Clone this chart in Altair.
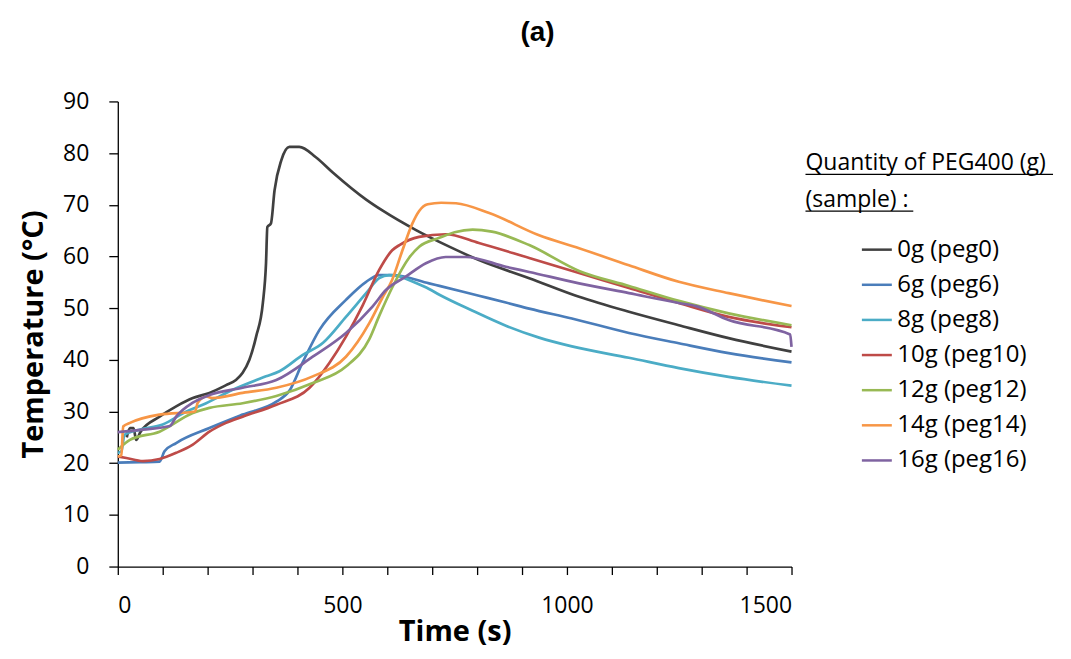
import altair as alt
import pandas as pd

# ---------------- data ----------------
series_names = ["0g (peg0)", "6g (peg6)", "8g (peg8)", "10g (peg10)",
                "12g (peg12)", "14g (peg14)", "16g (peg16)"]
series_colors = ["#404040", "#4A7DBA", "#4BACC6", "#BE4B48",
                 "#98B954", "#F79646", "#7F63A1"]

peg0_t = [20, 27, 35, 41, 50, 93, 130, 167, 204, 241, 263, 278, 293, 308, 323,
          330, 333, 341, 349, 364, 382, 404, 441, 478, 553, 589, 664, 738, 804,
          916, 1027, 1138, 1249, 1360, 1500]
peg0_T = [25.0, 26.8, 26.8, 24.5, 26.0, 29.0, 31.0, 32.6, 33.6, 35.1, 36.1, 37.5,
          40.0, 44.5, 51.0, 58.7, 65.7, 66.4, 72.8, 78.6, 81.2, 81.2, 79.2, 76.3,
          71.0, 68.9, 65.1, 61.9, 59.3, 55.8, 52.2, 49.3, 46.7, 44.2, 41.6]

peg6_t = [0, 50, 93, 104, 130, 204, 278, 353, 382, 411, 449, 508, 553, 582, 611,
          693, 716, 804, 864, 916, 1011, 1138, 1249, 1360, 1500]
peg6_T = [20.1, 20.2, 20.3, 22.3, 23.9, 26.8, 29.4, 31.9, 34.0, 39.4, 45.8, 51.6,
          55.1, 56.4, 56.4, 54.8, 54.3, 52.4, 51.1, 49.9, 48.0, 45.2, 43.2, 41.3,
          39.5]

peg8_t = [0, 8, 15, 50, 100, 153, 189, 256, 330, 360, 411, 457, 508, 553, 582,
          604, 625, 660, 693, 716, 790, 864, 938, 1011, 1138, 1249, 1360, 1500]
peg8_T = [22.0, 22.3, 25.5, 26.5, 27.5, 30.0, 31.3, 34.2, 36.8, 37.8, 40.9, 43.3,
          48.3, 52.9, 55.8, 56.4, 56.2, 55.0, 53.7, 52.6, 49.5, 46.6, 44.3, 42.6,
          40.4, 38.4, 36.7, 35.0]

peg10_t = [0, 19, 56, 93, 130, 167, 204, 241, 278, 353, 427, 471, 508, 545, 582,
           611, 627, 671, 730, 804, 916, 1027, 1138, 1249, 1360, 1500]
peg10_T = [21.3, 21.0, 20.4, 20.8, 22.0, 23.6, 26.1, 27.8, 29.0, 31.3, 34.6, 39.4,
           44.5, 50.5, 57.4, 61.2, 62.2, 63.8, 64.3, 62.6, 59.7, 56.8, 53.9, 51.0,
           48.3, 46.3]

peg12_t = [0, 27, 93, 167, 204, 278, 353, 434, 508, 560, 582, 611, 649, 671, 716,
           750, 790, 833, 916, 1027, 1138, 1249, 1360, 1500]
peg12_T = [22.6, 24.5, 26.1, 29.7, 30.7, 31.6, 33.0, 35.5, 38.7, 44.0, 48.5, 54.0,
           59.8, 61.9, 63.6, 64.7, 65.2, 64.8, 62.2, 57.2, 54.3, 51.4, 49.0, 46.7]

peg14_t = [0, 8, 12, 27, 93, 172, 178, 197, 210, 278, 353, 434, 508, 560, 589,
           611, 633, 656, 671, 690, 720, 753, 827, 938, 1027, 1138, 1249, 1360,
           1500]
peg14_T = [21.3, 21.5, 27.1, 27.8, 29.4, 30.0, 31.7, 32.9, 32.6, 33.6, 34.6, 36.8,
           40.6, 47.1, 52.0, 55.5, 61.0, 66.4, 68.8, 70.1, 70.4, 70.3, 68.4, 64.1,
           61.6, 58.3, 55.1, 52.9, 50.4]

peg16_t = [0, 56, 116, 130, 167, 204, 278, 353, 434, 508, 567, 597, 641, 686, 730,
           775, 864, 916, 1027, 1138, 1249, 1287, 1360, 1497, 1500]
peg16_T = [26.0, 26.5, 27.2, 29.0, 31.7, 33.2, 34.6, 36.1, 40.6, 45.2, 50.3, 53.5,
           56.1, 58.7, 59.9, 59.9, 58.0, 57.0, 54.8, 52.9, 51.0, 50.4, 47.7, 44.9,
           42.5]

x_tick_values = list(range(0, 1501, 100))
y_tick_values = list(range(0, 91, 10))
legend_title_lines = ["Quantity of PEG400 (g)", "(sample) :"]

# ---------------- table ----------------
all_t = [peg0_t, peg6_t, peg8_t, peg10_t, peg12_t, peg14_t, peg16_t]
all_T = [peg0_T, peg6_T, peg8_T, peg10_T, peg12_T, peg14_T, peg16_T]
rows = []
for name, ts, Ts in zip(series_names, all_t, all_T):
    for t, T in zip(ts, Ts):
        rows.append({"series": name, "time": t, "temp": T})
df = pd.DataFrame(rows)

FONT = "Open Sans"

lines = alt.Chart(df).mark_line(strokeWidth=2.7, interpolate="monotone").encode(
    x=alt.X("time:Q",
            scale=alt.Scale(domain=[0, 1500], nice=False, zero=False),
            axis=alt.Axis(values=x_tick_values,
                          labelExpr="datum.value % 500 == 0 ? toString(datum.value) : ''",
                          title="Time (s)", grid=False, tickSize=8,
                          labelPadding=20, titlePadding=0)),
    y=alt.Y("temp:Q",
            scale=alt.Scale(domain=[0, 90], nice=False),
            axis=alt.Axis(values=y_tick_values, title="Temperature (°C)",
                          grid=False, tickSize=9, labelPadding=20,
                          titlePadding=14)),
    color=alt.Color("series:N",
                    scale=alt.Scale(domain=series_names, range=series_colors),
                    sort=series_names,
                    legend=alt.Legend(orient="none", legendX=744, legendY=132,
                                      title=None, symbolType="stroke",
                                      symbolSize=900, symbolStrokeWidth=2.5,
                                      labelFont=FONT, labelFontSize=24,
                                      labelColor="#000", rowPadding=6.2,
                                      padding=0, labelOffset=4)),
    detail="series:N",
)

title_df1 = pd.DataFrame({"txt": [legend_title_lines[0]]})
title_df2 = pd.DataFrame({"txt": [legend_title_lines[1]]})

leg_t1 = alt.Chart(title_df1).mark_text(
    align="left", baseline="middle", font=FONT, fontSize=23, color="#000"
).encode(text="txt:N", x=alt.value(689), y=alt.value(62))
leg_t2 = alt.Chart(title_df2).mark_text(
    align="left", baseline="middle", font=FONT, fontSize=23, color="#000"
).encode(text="txt:N", x=alt.value(689), y=alt.value(99))
ul1 = alt.Chart(title_df1).mark_rule(color="#000", strokeWidth=1.3).encode(
    x=alt.value(689), x2=alt.value(937), y=alt.value(73))
ul2 = alt.Chart(title_df2).mark_rule(color="#000", strokeWidth=1.3).encode(
    x=alt.value(689), x2=alt.value(797), y=alt.value(110))

chart = alt.layer(lines, leg_t1, leg_t2, ul1, ul2).properties(
    width=675, height=466,
    autosize=alt.AutoSizeParams(type="none"),
    padding={"left": 110, "top": 93, "right": 272, "bottom": 84},
    title=alt.TitleParams("(a)", anchor="middle", font="Liberation Sans",
                          fontSize=28, fontWeight="bold", color="#000",
                          dx=83, offset=44),
).configure_view(stroke=None).configure_axis(
    domainColor="#000", domainWidth=1.3, tickColor="#000", tickWidth=1.3,
    labelFont=FONT, labelFontSize=23, labelColor="#000",
    titleFont=FONT, titleFontSize=29, titleFontWeight="bold", titleColor="#000",
)

chart.save("out.html", embed_options={"renderer": "svg", "actions": False})
